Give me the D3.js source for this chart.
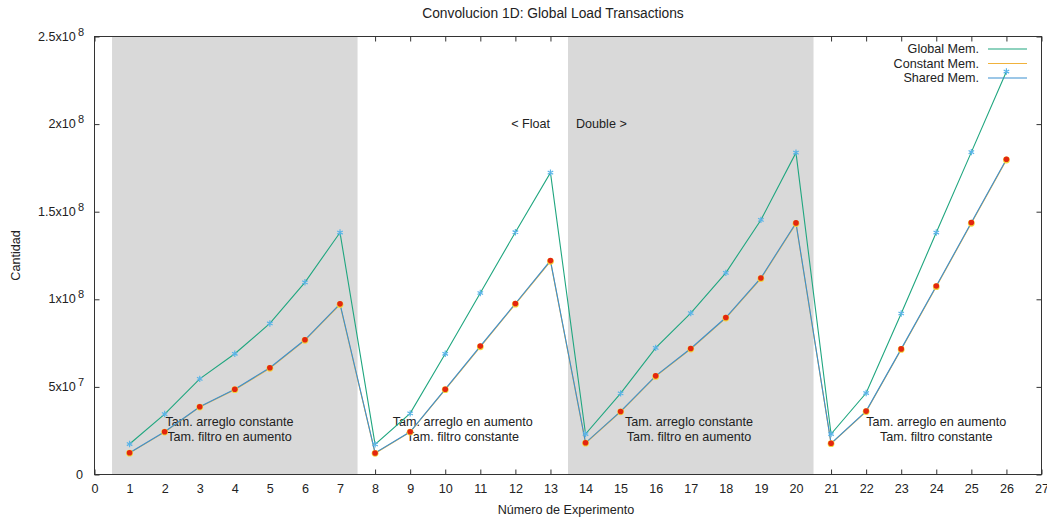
<!DOCTYPE html>
<html>
<head>
<meta charset="utf-8">
<script src="https://cdn.jsdelivr.net/npm/d3@7"></script>
<style>
  html, body { margin: 0; padding: 0; background: #fff; }
  svg { display: block; font-family: "Liberation Sans", Arial, sans-serif; }
</style>
</head>
<body>
<svg id="chart" width="1047" height="520"></svg>
<script>
// Experiment numbers, four groups of runs
const experiments = [1,2,3,4,5,6,7, 8,9,10,11,12,13, 14,15,16,17,18,19,20, 21,22,23,24,25,26];

// Global load transactions per memory variant
const globalMem = [
  1.74e7, 3.45e7, 5.46e7, 6.89e7, 8.62e7, 1.097e8, 1.381e8,
  1.72e7, 3.49e7, 6.89e7, 1.036e8, 1.383e8, 1.723e8,
  2.31e7, 4.63e7, 7.23e7, 9.21e7, 1.151e8, 1.453e8, 1.837e8,
  2.31e7, 4.65e7, 9.19e7, 1.381e8, 1.840e8, 2.300e8
];
const constantMem = [
  1.22e7, 2.42e7, 3.85e7, 4.84e7, 6.06e7, 7.66e7, 9.70e7,
  1.21e7, 2.42e7, 4.84e7, 7.29e7, 9.72e7, 1.217e8,
  1.79e7, 3.58e7, 5.60e7, 7.16e7, 8.93e7, 1.118e8, 1.432e8,
  1.76e7, 3.59e7, 7.14e7, 1.072e8, 1.434e8, 1.795e8
];
const sharedMem = [
  1.24e7, 2.44e7, 3.87e7, 4.87e7, 6.09e7, 7.69e7, 9.74e7,
  1.23e7, 2.44e7, 4.87e7, 7.33e7, 9.76e7, 1.221e8,
  1.81e7, 3.60e7, 5.63e7, 7.19e7, 8.96e7, 1.122e8, 1.436e8,
  1.78e7, 3.62e7, 7.17e7, 1.076e8, 1.438e8, 1.799e8
];

const xTicks = d3.range(0, 28);
const yTicks = [0, 5e7, 1e8, 1.5e8, 2e8, 2.5e8];
const yTickLabels = [["0",""],["5x10","7"],["1x10","8"],["1.5x10","8"],["2x10","8"],["2.5x10","8"]];

// Shaded ranges (first and third groups)
const bands = [[0.5, 7.5], [13.5, 20.5]];

const notes = [
  { x: 3.85, lines: ["Tam. arreglo constante", "Tam. filtro en aumento"] },
  { x: 10.5, lines: ["Tam. arreglo en aumento", "Tam. filtro constante"] },
  { x: 16.95, lines: ["Tam. arreglo constante", "Tam. filtro en aumento"] },
  { x: 24.0, lines: ["Tam. arreglo en aumento", "Tam. filtro constante"] }
];

const seriesInfo = [
  { name: "Global Mem.", values: globalMem, color: "#1fa67f" },
  { name: "Constant Mem.", values: constantMem, color: "#f0b23c" },
  { name: "Shared Mem.", values: sharedMem, color: "#3b8fd0" }
];

const svg = d3.select("#chart");
const W = 1047, H = 520;
const m = { left: 94.5, right: 1047 - 1041.5, top: 36.5, bottom: 520 - 474.5 };

const x = d3.scaleLinear().domain([0, 27]).range([m.left, W - m.right]);
const y = d3.scaleLinear().domain([0, 2.5e8]).range([H - m.bottom, m.top]);

const textColor = "#222";
const fontSize = 12.6;

// Axes with ticks on all four sides
const tickLen = 5;
const axisG = svg.append("g");
axisG.append("g")
  .attr("transform", `translate(0,${y(0)})`)
  .call(d3.axisBottom(x).tickValues(xTicks).tickSize(-tickLen).tickPadding(10).tickFormat(d3.format("d")));
axisG.append("g")
  .attr("transform", `translate(0,${y(2.5e8)})`)
  .call(d3.axisTop(x).tickValues(xTicks).tickSize(-tickLen).tickFormat(""));
axisG.append("g")
  .attr("transform", `translate(${x(0)},0)`)
  .call(d3.axisLeft(y).tickValues(yTicks).tickSize(-tickLen).tickFormat(""));
axisG.append("g")
  .attr("transform", `translate(${x(27)},0)`)
  .call(d3.axisRight(y).tickValues(yTicks).tickSize(-tickLen).tickFormat(""));
axisG.selectAll(".domain").remove();
axisG.selectAll(".tick line").attr("stroke", "#333").attr("stroke-width", 1);
axisG.selectAll(".tick text").attr("fill", textColor).attr("font-size", fontSize)
  .attr("font-family", "Liberation Sans, Arial, sans-serif");

// Y tick labels with superscript exponents
const yl = svg.append("g");
yTicks.forEach((v, i) => {
  const [base, exp] = yTickLabels[i];
  const t = yl.append("text")
    .attr("x", exp ? 84 : 83)
    .attr("y", y(v) + 4)
    .attr("text-anchor", "end")
    .attr("fill", textColor)
    .attr("font-size", fontSize);
  t.append("tspan").text(base);
  if (exp) {
    t.append("tspan").attr("dx", 2).attr("dy", -5).attr("font-size", 11).text(exp);
  }
});

// Shaded bands (drawn over tick marks, under the frame)
svg.append("g").selectAll("rect").data(bands).join("rect")
  .attr("x", d => x(d[0]))
  .attr("y", y(2.5e8))
  .attr("width", d => x(d[1]) - x(d[0]))
  .attr("height", y(0) - y(2.5e8))
  .attr("fill", "#d9d9d9");

// Frame
svg.append("rect")
  .attr("x", x(0)).attr("y", y(2.5e8))
  .attr("width", x(27) - x(0)).attr("height", y(0) - y(2.5e8))
  .attr("fill", "none").attr("stroke", "#333").attr("stroke-width", 1);

// Title and axis labels
svg.append("text").attr("x", 553).attr("y", 18).attr("text-anchor", "middle")
  .attr("fill", textColor).attr("font-size", 13.8)
  .text("Convolucion 1D: Global Load Transactions");
svg.append("text").attr("transform", `translate(20,${(y(0) + y(2.5e8)) / 2}) rotate(-90)`)
  .attr("text-anchor", "middle").attr("fill", textColor).attr("font-size", fontSize)
  .text("Cantidad");
svg.append("text").attr("x", 566).attr("y", 514).attr("text-anchor", "middle")
  .attr("fill", textColor).attr("font-size", fontSize)
  .text("Número de Experimento");

// Float / Double labels
svg.append("text").attr("x", 550).attr("y", 128).attr("text-anchor", "end")
  .attr("fill", textColor).attr("font-size", fontSize).text("< Float");
svg.append("text").attr("x", 576).attr("y", 128).attr("text-anchor", "start")
  .attr("fill", textColor).attr("font-size", fontSize).text("Double >");

// Group notes
const noteG = svg.append("g");
notes.forEach(n => {
  n.lines.forEach((line, j) => {
    noteG.append("text")
      .attr("x", x(n.x)).attr("y", 426 + j * 15)
      .attr("text-anchor", "middle")
      .attr("fill", textColor).attr("font-size", fontSize)
      .text(line);
  });
});

// Series lines
const line = d3.line().x(d => x(d[0])).y(d => y(d[1]));
const lineOrder = [1, 2, 0];
lineOrder.forEach(si => {
  const s = seriesInfo[si];
  svg.append("path")
    .datum(experiments.map((e, i) => [e, s.values[i]]))
    .attr("d", line)
    .attr("fill", "none")
    .attr("stroke", s.color)
    .attr("stroke-width", 1.1);
});

// Markers: asterisks for global, yellow/red dots for constant/shared
const star = d3.symbol().type(d3.symbolAsterisk).size(28);
svg.append("g").selectAll("path").data(experiments)
  .join("path")
  .attr("transform", (e, i) => `translate(${x(e)},${y(globalMem[i])})`)
  .attr("d", star)
  .attr("fill", "none")
  .attr("stroke", "#5ab4e8")
  .attr("stroke-width", 1.2);
svg.append("g").selectAll("circle").data(experiments)
  .join("circle")
  .attr("cx", e => x(e))
  .attr("cy", (e, i) => y(constantMem[i]))
  .attr("r", 3.4)
  .attr("fill", "#f2d43a");
svg.append("g").selectAll("circle").data(experiments)
  .join("circle")
  .attr("cx", e => x(e))
  .attr("cy", (e, i) => y(sharedMem[i]))
  .attr("r", 2.8)
  .attr("fill", "#e3260f");

// Legend
const legend = svg.append("g");
seriesInfo.forEach((s, i) => {
  const ly = 49 + i * 14.5;
  legend.append("text").attr("x", 979).attr("y", ly + 4)
    .attr("text-anchor", "end").attr("fill", textColor).attr("font-size", fontSize)
    .text(s.name);
  legend.append("line")
    .attr("x1", 988).attr("x2", 1027).attr("y1", ly).attr("y2", ly)
    .attr("stroke", s.color).attr("stroke-width", 1.1);
});
</script>
</body>
</html>
